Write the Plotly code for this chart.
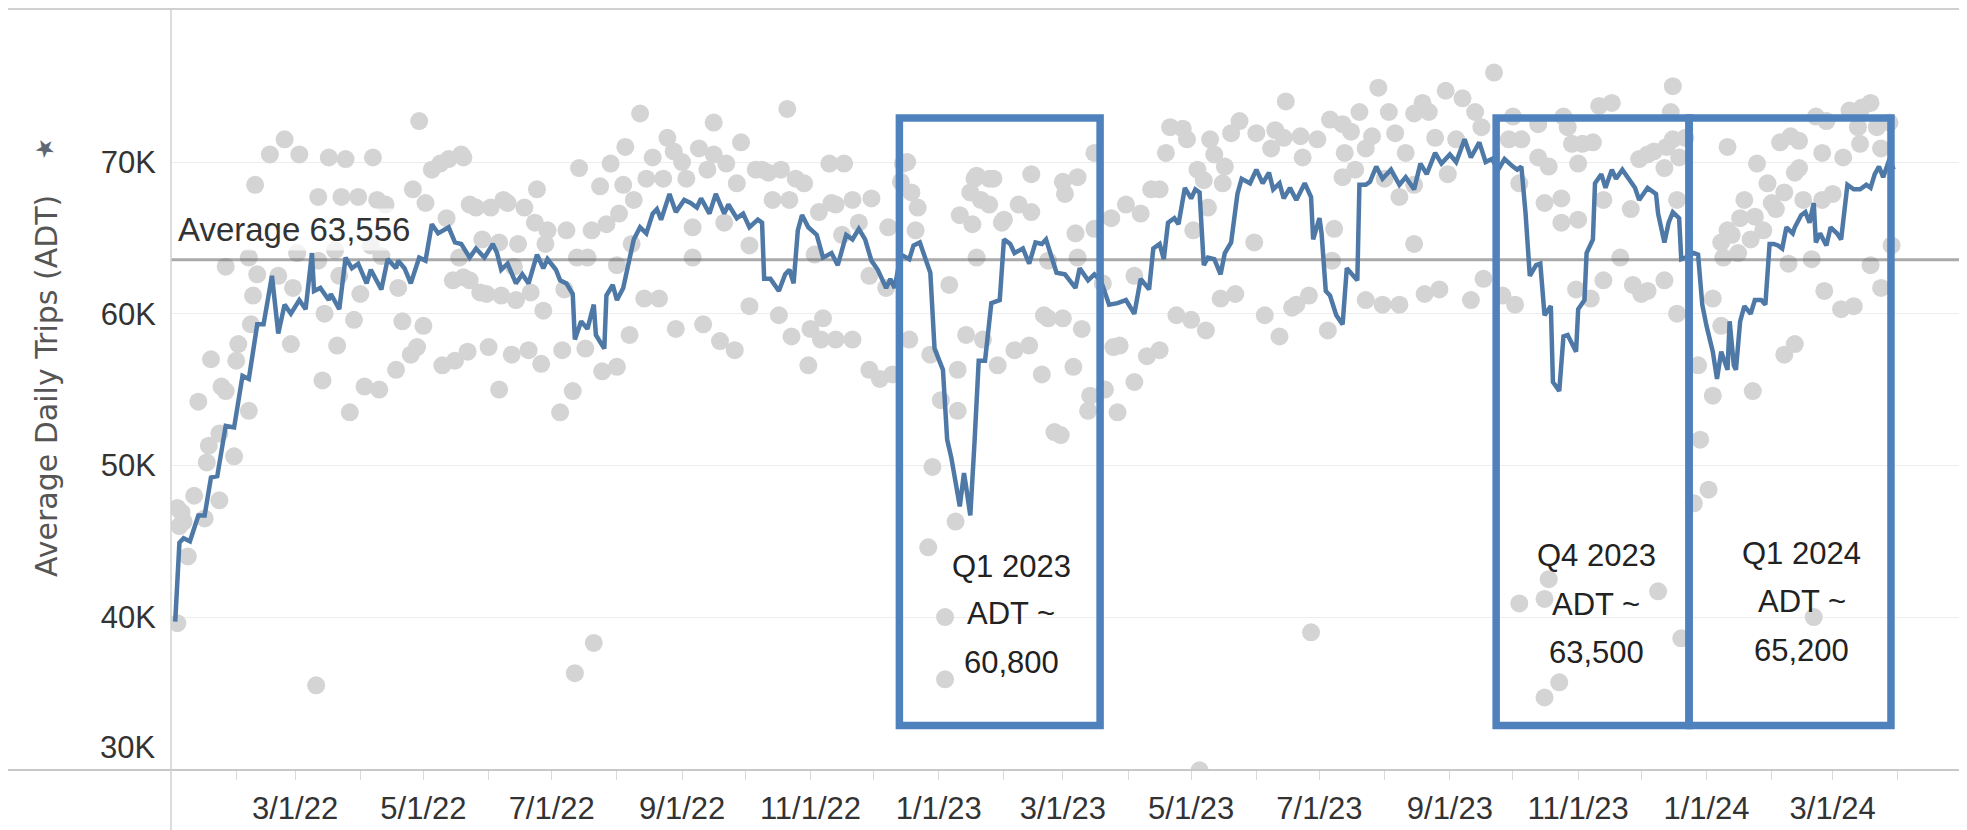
import pandas as pd
import plotly.graph_objects as go

BASE_DATE = "2022-01-01"  # day offsets below count days since this date

# ---- Daily ADT dots: (days since 2022-01-01, ADT in thousands) ----
dots_2022_a = [(3,39.6),(3,47.2),(4,46.0),(5,46.9),(6,46.3),(8,44.0),(11,48.0),(13,54.2),(16,46.5),(17,50.2),
    (18,51.3),(19,57.0),(23,47.7),(23,52.1),(24,55.2),(26,54.9),(26,63.1),(30,50.6),(31,56.9),(32,58.0),
    (37,53.6),(37,63.7),(38,59.3),(39,61.2),(40,68.5),(41,62.6),(47,70.5),(51,62.5),(54,71.5),(57,58.0),
    (58,61.7),(60,64.0),(61,70.5),(69,35.5),(70,67.7),(70,63.5),(72,55.6),(73,60.0),(75,70.3),(78,64.2),
    (79,57.9),(80,62.5),(81,67.7),(83,70.2),(85,53.5),(87,59.6),(89,67.7),(90,61.3),(92,55.2),(95,64.5),
    (96,70.3),(98,67.5),(99,55.0),(100,63.8),(102,67.2),(107,56.3),(108,61.7),(110,59.5),(114,57.3),(115,68.2),
    (117,57.8),(118,72.7),(120,59.2),(121,67.3),(124,69.5),(128,69.9),(129,56.6),(131,66.3),(132,70.2),(134,62.2),
    (135,56.9),(137,63.7),(138,70.5),(139,62.4),(141,57.5),(142,67.2)]
dots_2022_b = [(139,70.3),(142,62.2),(145,67.0),(147,61.4),(148,64.9),(150,61.3),(151,57.8),(152,67.0),(156,55.0),
    (156,64.7),(157,61.2),(158,67.5),(160,67.3),(162,57.3),(163,63.1),(164,60.9),(165,64.6),(168,67.0),(170,57.6),
    (171,61.4),(173,66.0),(174,68.2),(176,56.7),(177,60.2),(178,64.6),(179,65.5),(185,53.5),(186,57.6),(187,61.6),
    (188,65.5),(191,54.9),(192,36.3),(193,63.7),(194,69.6),(197,57.7),(198,63.7),(200,65.5),(201,38.3),(204,68.4),
    (205,56.2),(207,65.9),(209,69.9),(212,56.5),(212,63.2),(213,66.6),(215,68.5),(216,71.0),(218,58.6),(219,64.6),
    (220,67.5),(223,73.2),(225,61.0),(226,68.9),(229,70.3),(232,61.0),(234,68.9),(236,71.6),(239,70.7),(240,59.0),
    (243,70.0),(245,68.9),(248,65.7),(248,63.7),(251,70.9),(253,59.3),(255,69.5),(258,72.6),(258,70.5),(261,58.2),
    (263,66.0),(264,69.9),(268,57.6),(269,68.6),(271,71.3),(275,60.5),(275,64.5),(278,69.5)]
dots_2022_c = [(281,69.5),(284,69.3),(286,67.5),(289,59.9),(290,69.5),(293,73.5),(294,67.5),(295,58.5),(297,68.9),
    (301,68.6),(303,56.6),(304,59.0),(306,63.9),(308,66.7),(309,58.3),(310,59.7),(313,69.9),(314,67.3),(316,58.3),
    (316,67.2),(319,65.2),(320,69.9),(324,58.3),(324,67.5),(327,66.0),(332,62.5),(332,56.3),(333,67.6),(337,55.7),
    (340,61.7),(341,65.7),(343,56.0),(347,68.7),(348,69.9),(350,70.0),(351,58.3),(352,68.0),(354,65.5),(355,67.0),
    (360,44.6),(361,57.3),(362,49.9),(366,54.3),(368,40.0),(368,35.9),(370,61.9),(373,46.3),(374,53.6),(374,56.3),
    (375,66.5),(378,58.6),(380,68.0),(381,65.9),(382,68.9),(383,69.1),(383,63.7),(385,67.5),(386,58.3),(389,68.9),
    (389,67.2),(391,68.9),(393,56.6),(395,66.0),(396,66.2),(401,57.6),(403,67.2),(408,57.9),(409,69.2),(409,66.7),
    (414,56.0),(415,59.9),(417,59.7),(417,63.5),(420,52.2)]
dots_2023_a = [(423,52.0),(424,68.7),(424,59.7),(425,67.9),(429,56.5),(430,65.3),(431,69.0),(431,63.7),(433,59.0),
    (436,53.6),(437,54.6),(439,70.6),(439,65.6),(443,62.0),(444,55.0),(447,66.3),(448,57.8),(450,53.5),(451,57.9),
    (454,67.2),(458,55.5),(458,62.5),(461,66.6),(464,57.2),(466,68.2),(470,57.6),(470,68.2),(473,70.6),(475,72.3),
    (478,59.9),(481,72.2),(483,71.5),(485,59.6),(486,65.5),(488,69.5),(489,29.9),(491,68.8),(492,58.9),(493,67.0),
    (494,71.5),(496,70.5),(499,61.0),(500,68.6),(501,69.7),(504,71.9),(506,61.3),(508,72.7),(515,64.7),(516,71.9),
    (520,59.9),(523,70.9),(525,72.1),(527,58.5),(529,71.6),(530,74.0),(533,60.4),(535,60.6),(537,71.7),(538,70.3),
    (541,61.2),(542,39.0),(545,71.5),(550,58.9),(551,72.8),(552,63.5),(553,65.6),(557,69.0),(557,72.5),(558,70.6)]
dots_2023_b = [(561,72.0),(563,69.5),(565,73.3),(568,70.9),(568,60.9),(571,71.7),(574,74.9),(576,60.6),(577,68.9),
    (579,73.3),(582,71.9),(584,67.7),(584,60.6),(587,70.6),(591,73.2),(591,68.5),(591,64.6),(595,73.9),(596,61.3),
    (598,73.3),(601,71.6),(603,61.6),(606,74.7),(607,69.2),(611,71.5),(614,74.2),(618,60.9),(620,73.3),(623,72.3),
    (624,62.3),(629,75.9),(633,61.2),(636,71.5),(638,73.0),(639,60.6),(641,68.6),(641,40.9),(642,71.5),(650,72.5),
    (650,70.3),(653,67.3),(653,41.2),(653,34.7),(655,69.7),(655,42.5),(660,35.7),(661,67.6),(661,66.0),(662,73.0),
    (664,72.3),(666,71.2),(668,61.6),(669,66.2),(669,69.9),(671,71.2),(675,61.0),(676,71.3),(679,73.7),(681,67.5),
    (681,62.2),(685,73.9),(689,63.7),(694,66.9),(695,61.9),(698,70.2),(699,61.3)]
dots_2024 = [(702,70.5),(702,61.5),(705,70.7),(707,41.7),(710,69.6),(710,62.2),(711,71.0),(713,73.3),(714,75.0),
    (714,71.5),(716,67.5),(716,60.0),(717,70.3),(718,38.6),(720,71.6),(724,47.5),(726,56.6),(727,51.7),(731,48.4),
    (733,54.6),(733,61.0),(737,59.2),(737,64.7),(738,63.7),(740,71.0),(740,65.5),(742,65.2),(745,64.0),(746,66.3),
    (748,67.5),(751,64.9),(752,54.9),(753,66.4),(754,69.9),(757,65.5),(759,68.6),(761,67.3),(763,66.9),(765,71.3),
    (767,57.3),(767,68.0),(769,63.3),(770,71.7),(772,58.0),(772,69.3),(774,71.4),(774,69.6),(776,67.5),(780,63.6),
    (781,40.0),(782,73.0),(785,70.6),(785,67.5),(786,61.5),(787,72.7),(790,67.9),(794,60.3),(795,70.3),(798,73.4),
    (800,60.5),(802,72.3),(803,71.2),(804,73.6),(808,73.9),(808,63.2),(811,72.3),(813,70.9),(813,61.7),(817,72.6),
    (818,64.5)]

# ---- Rolling ADT trend line vertices: (days since 2022-01-01, ADT in thousands) ----
trend_2022_a = [(2,39.7),(4,44.9),(6,45.2),(9,45.0),(13,46.7),(16,46.7),(19,49.2),(22,49.3),(26,52.6),(30,52.5),
    (34,55.9),(37,55.7),(41,59.3),(44,59.3),(48,62.5),(51,58.7),(54,60.6),(57,60.0),(61,60.9),(64,60.3),(67,64.0),
    (68,61.5),(71,61.7),(75,60.9),(76,61.3),(80,60.3),(83,63.7),(86,63.0),(89,63.3),(93,62.0),(95,62.9),(100,61.6),
    (103,63.6),(107,63.0),(108,63.5),(111,63.0),(114,62.0),(118,63.7),(121,63.5),(124,65.9),(127,65.3),(132,65.7),
    (135,64.7),(138,64.6)]
trend_2022_b = [(142,63.7),(145,64.3),(149,63.7),(153,64.6),(155,64.0),(157,62.9),(160,63.3),(164,62.0),(167,62.6),
    (170,62.0),(174,63.9),(177,63.0),(179,63.6),(183,62.9),(185,62.2),(188,62.0),(191,61.3),(192,58.3),(195,59.5),
    (198,59.0),(201,60.6),(202,58.6),(206,57.7),(207,61.2),(210,61.9),(212,60.9),(215,61.7),(217,62.9),(220,64.9),
    (223,65.7),(226,65.3),(229,66.6),(231,66.9),(233,66.2),(237,67.9),(240,66.7),(244,67.5),(247,67.3),(250,67.0),
    (252,67.6),(256,66.6),(259,67.9),(263,66.6),(265,67.2),(269,66.3),(272,66.6),(275,65.7),(279,66.2),(281,66.0)]
trend_2022_c = [(282,62.3),(285,62.3),(289,61.5),(292,62.6),(294,62.9),(296,62.0),(298,65.5),(300,66.5),(303,65.7),
    (307,65.2),(310,63.7),(314,64.0),(317,63.2),(321,65.2),(324,64.9),(327,65.6),(330,64.9),(333,63.5),(336,62.9),
    (340,61.7),(342,62.3),(344,61.7),(347,63.9),(351,63.6),(353,64.5),(356,64.7),(359,63.5),(361,62.7),(363,57.7),
    (367,56.3),(369,51.7),(371,50.5),(375,47.3),(377,49.5),(378,48.6),(380,46.7),(382,51.5),(384,56.9),(387,56.9),
    (390,60.7),(394,60.9),(396,64.9),(399,64.6),(401,64.0),(405,64.3),(408,63.3),(411,64.7),(414,64.6),(416,64.9),
    (419,63.5),(421,62.7)]
trend_2023_a = [(425,62.6),(430,61.7),(432,63.0),(436,62.2),(439,62.6),(442,62.2),(446,60.6),(450,60.7),(454,60.9),
    (458,60.0),(461,62.3),(465,61.6),(467,64.3),(470,64.6),(472,63.6),(474,66.0),(477,66.3),(479,65.9),(482,68.3),
    (485,67.6),(487,68.2),(489,68.0),(491,63.2),(493,63.7),(496,63.6),(499,62.6),(501,64.0),(504,64.7),(507,67.9),
    (509,68.9),(513,68.6),(516,69.5),(519,68.6),(522,69.3),(524,68.2),(527,68.6),(529,67.6),(532,68.3),(535,67.5),
    (539,68.6),(542,67.7),(543,64.9),(546,66.3),(547,65.3),(549,61.5),(551,61.2),(554,59.9),(557,59.3),(559,63.0),
    (561,62.7)]
trend_2023_b = [(564,62.2),(565,68.5),(568,68.5),(570,68.7),(573,69.7),(576,68.9),(580,69.5),(584,68.5),(587,69.0),
    (591,68.2),(594,69.9),(597,69.2),(601,70.6),(604,69.9),(608,70.5),(611,70.0),(615,71.5),(618,70.3),(622,71.3),
    (625,70.0),(628,70.2),(631,69.5),(634,70.2),(638,69.7),(640,69.5),(642,69.7),(644,66.6),(646,62.5),(649,63.2),
    (651,63.3),(653,59.9),(656,60.5),(657,55.5),(660,54.9),(662,58.5),(664,58.6),(668,57.5),(669,60.3),(672,60.9),
    (673,64.0),(676,64.9),(677,68.6),(680,69.2),(682,68.3),(685,69.5),(687,68.9),(690,69.5),(693,68.9),(696,68.3),
    (698,67.5)]
trend_2024 = [(702,68.3),(706,67.9),(707,66.6),(710,64.7),(712,66.0),(714,66.7),(717,66.3),(718,63.6),(720,63.7),
    (724,64.0),(726,63.9),(728,60.6),(730,59.2),(733,57.5),(735,55.7),(737,57.5),(740,56.3),(741,59.5),(743,56.6),
    (744,56.3),(746,59.5),(748,60.5),(751,60.0),(753,60.9),(756,60.9),(758,60.6),(760,64.6),(762,64.6),(764,64.5),
    (766,64.3),(768,65.7),(771,65.3),(772,65.7),(775,66.5),(777,66.7),(779,66.0),(781,67.3),(782,64.7),(784,65.3),
    (787,64.5),(789,65.7),(792,65.3),(794,64.9),(797,68.5),(800,68.2),(803,68.2),(806,68.5),(808,68.3),(810,69.2),
    (812,69.7),(814,69.0),(817,70.2),(819,69.5)]

AVERAGE_ADT = 63556
y_tick_values = [40000, 50000, 60000, 70000]
y_tick_labels = ["40K", "50K", "60K", "70K"]
x_tick_dates = ["2022-03-01", "2022-05-01", "2022-07-01", "2022-09-01", "2022-11-01", "2023-01-01", "2023-03-01",
                "2023-05-01", "2023-07-01", "2023-09-01", "2023-11-01", "2024-01-01", "2024-03-01"]
x_tick_labels = ["3/1/22", "5/1/22", "7/1/22", "9/1/22", "11/1/22", "1/1/23", "3/1/23",
                 "5/1/23", "7/1/23", "9/1/23", "11/1/23", "1/1/24", "3/1/24"]

# Highlight boxes (date span) and their callout text
box_spans = [("2022-12-13 07:00", "2023-03-18 17:00"),
             ("2023-09-23 00:00", "2023-12-23 17:00"),
             ("2023-12-23 17:00", "2024-03-28 17:00")]
box_adt_range = (32850, 72900)
box_labels = [["Q1 2023", "ADT ~", "60,800"],
              ["Q4 2023", "ADT ~", "63,500"],
              ["Q1 2024", "ADT ~", "65,200"]]
box_label_dates = ["2023-02-04 12:00", "2023-11-09 12:00", "2024-02-15 08:00"]
box_label_levels = [[43360, 40270, 37030], [44090, 40860, 37690], [44220, 41000, 37820]]

X_RANGE = ["2022-01-01", "2024-05-01"]
Y_RANGE = [29920, 80090]

# ---------------------------------------------------------------------------
base = pd.Timestamp(BASE_DATE)


def unzip(groups):
    days, vals = [], []
    for g in groups:
        for d, v in g:
            days.append(d)
            vals.append(v * 1000)
    return base + pd.to_timedelta(days, unit="D"), vals


dot_x, dot_y = unzip([dots_2022_a, dots_2022_b, dots_2022_c, dots_2023_a, dots_2023_b, dots_2024])
line_x, line_y = unzip([trend_2022_a, trend_2022_b, trend_2022_c, trend_2023_a, trend_2023_b, trend_2024])

BLUE = "#4E79A7"
BOX_BLUE = "#4F81BD"
LABEL_FONT = "Liberation Sans, Arial, sans-serif"
TEXT_COLOR = "#333333"

# The page body adds an 8px offset; the figure is sized so the plot area lands
# where the reference has it (plot area 1790 x 761 px).
FIG_W, FIG_H = 1959, 822
M_L, M_T, M_R, M_B = 163, 1, 6, 60

fig = go.Figure()
fig.add_trace(go.Scatter(x=dot_x, y=dot_y, mode="markers",
                         marker=dict(size=18, color="#D4D4D4", line=dict(width=0)),
                         hoverinfo="skip", showlegend=False))
fig.add_trace(go.Scatter(x=X_RANGE, y=[AVERAGE_ADT, AVERAGE_ADT], mode="lines",
                         line=dict(color="rgba(100,100,100,0.55)", width=3),
                         hoverinfo="skip", showlegend=False))
fig.add_trace(go.Scatter(x=line_x, y=line_y, mode="lines",
                         line=dict(color=BLUE, width=4.5),
                         hoverinfo="skip", showlegend=False))

PW = FIG_W - M_L - M_R
PH = FIG_H - M_T - M_B
shapes = []
border = "#D0D0D0"
left_ext = -M_L / PW
bottom_ext = -M_B / PH
shapes.append(dict(type="line", xref="paper", yref="paper", x0=left_ext, x1=1, y0=1, y1=1,
                   line=dict(color=border, width=2)))
shapes.append(dict(type="line", xref="paper", yref="paper", x0=left_ext, x1=1, y0=0, y1=0,
                   line=dict(color="#C8C8C8", width=2)))
shapes.append(dict(type="line", xref="paper", yref="paper", x0=0, x1=0, y0=bottom_ext, y1=1,
                   line=dict(color=border, width=1.5)))
shapes.append(dict(type="line", xref="paper", yref="paper", x0=1, x1=1, y0=bottom_ext, y1=1,
                   line=dict(color="#DADADA", width=1.5)))
for x0, x1 in box_spans:
    shapes.append(dict(type="rect", xref="x", yref="y", x0=x0, x1=x1,
                       y0=box_adt_range[0], y1=box_adt_range[1],
                       line=dict(color=BOX_BLUE, width=7.5), fillcolor="rgba(0,0,0,0)", layer="above"))

annotations = []
for lines, xd, levels in zip(box_labels, box_label_dates, box_label_levels):
    for txt, lv in zip(lines, levels):
        annotations.append(dict(x=xd, y=lv, xref="x", yref="y", text=txt, showarrow=False,
                                xanchor="center", yanchor="middle",
                                font=dict(family=LABEL_FONT, size=31, color="#222222")))
annotations.append(dict(x=0, y=AVERAGE_ADT, xref="paper", yref="y", text="Average 63,556",
                        showarrow=False, xanchor="left", yanchor="middle", xshift=4, yshift=30,
                        bgcolor="rgba(255,255,255,0.72)", borderpad=2,
                        font=dict(family=LABEL_FONT, size=33, color=TEXT_COLOR)))
annotations.append(dict(x=0, y=30000, xref="paper", yref="y", text="30K", showarrow=False,
                        xanchor="right", yanchor="middle", xshift=-14, yshift=21,
                        font=dict(family=LABEL_FONT, size=31, color=TEXT_COLOR)))
annotations.append(dict(x=(46 - 171) / PW, y=(770 - 386) / PH, xref="paper", yref="paper",
                        text="Average Daily Trips (ADT)", textangle=-90, showarrow=False,
                        xanchor="center", yanchor="middle",
                        font=dict(family="DejaVu Sans, sans-serif", size=30, color="#555555")))
annotations.append(dict(x=(45 - 171) / PW, y=(770 - 148) / PH, xref="paper", yref="paper",
                        text="★", textangle=-30, showarrow=False, xanchor="center", yanchor="middle",
                        font=dict(family="DejaVu Sans, sans-serif", size=24, color="#5E6873")))

month_starts = pd.date_range("2022-02-01", "2024-04-01", freq="MS")

fig.update_layout(
    width=FIG_W, height=FIG_H, autosize=False,
    margin=dict(l=M_L, r=M_R, t=M_T, b=M_B, pad=0),
    paper_bgcolor="white", plot_bgcolor="white",
    showlegend=False,
    shapes=shapes, annotations=annotations,
    xaxis=dict(type="date", range=X_RANGE, showgrid=False, zeroline=False, showline=False,
               automargin=False,
               tickmode="array", tickvals=x_tick_dates, ticktext=x_tick_labels,
               ticks="outside", ticklen=9, tickwidth=1, tickcolor="#D9D9D9",
               ticklabelstandoff=2,
               tickfont=dict(family=LABEL_FONT, size=31, color=TEXT_COLOR),
               minor=dict(tickmode="array", tickvals=list(month_starts), ticks="outside",
                          ticklen=9, tickwidth=1, tickcolor="#D9D9D9", showgrid=False)),
    yaxis=dict(range=Y_RANGE, showgrid=True, gridcolor="#EDEDED", gridwidth=1,
               zeroline=False, showline=False, ticks="", automargin=False,
               tickmode="array", tickvals=y_tick_values, ticktext=y_tick_labels,
               ticklabelstandoff=14,
               tickfont=dict(family=LABEL_FONT, size=31, color=TEXT_COLOR)),
)

fig.write_html("out.html")
